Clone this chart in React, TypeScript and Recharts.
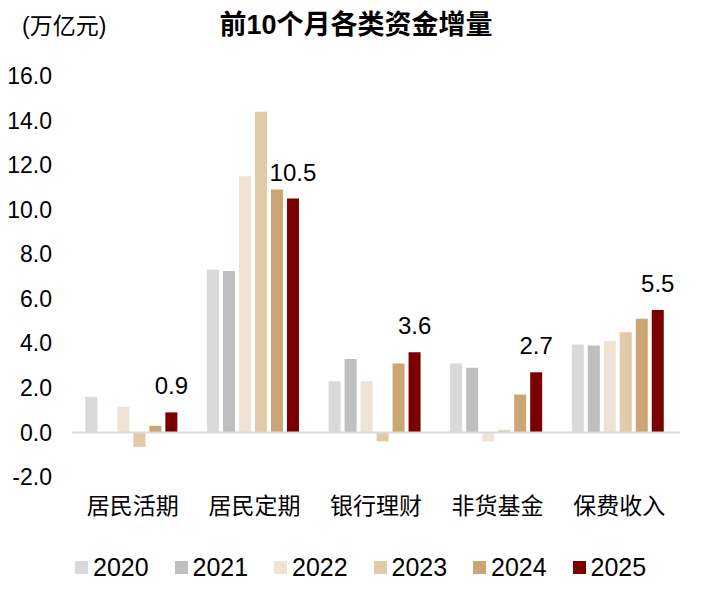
import React from 'react';
import { BarChart, Bar, XAxis, YAxis, ReferenceLine, LabelList } from 'recharts';

const categories = ['居民活期', '居民定期', '银行理财', '非货基金', '保费收入'];
const years = ['2020', '2021', '2022', '2023', '2024', '2025'];
const v2020 = [1.6, 7.3, 2.3, 3.1, 3.95];
const v2021 = [0, 7.25, 3.3, 2.9, 3.9];
const v2022 = [1.15, 11.5, 2.3, -0.4, 4.1];
const v2023 = [-0.65, 14.4, -0.4, 0.1, 4.5];
const v2024 = [0.3, 10.9, 3.1, 1.7, 5.1];
const v2025 = [0.9, 10.5, 3.6, 2.7, 5.5];
const yTicks = [-2, 0, 2, 4, 6, 8, 10, 12, 14, 16];
const colors = ['#D9D9D9', '#BFBFBF', '#EEE3D4', '#E0CAA8', '#C9A674', '#7A0000'];

const seriesValues = [v2020, v2021, v2022, v2023, v2024, v2025];
const data = categories.map((c, i) => {
  const row: Record<string, string | number> = { name: c };
  years.forEach((y, k) => {
    row[y] = seriesValues[k][i];
  });
  return row;
});

const FONT = "'Liberation Sans', Arial, 'Noto Sans CJK SC', sans-serif";

export default function App() {
  return (
    <div style={{ position: 'absolute', left: 0, top: 0, width: 723, height: 596, background: '#fff', fontFamily: FONT }}>
      <div style={{ position: 'absolute', left: 22, top: 11, fontSize: 23, lineHeight: '30px', color: '#000' }}>(万亿元)</div>
      <div style={{ position: 'absolute', left: 0, width: 712, top: 9, textAlign: 'center', fontSize: 27, fontWeight: 'bold', lineHeight: '32px', color: '#000' }}>
        前10个月各类资金增量
      </div>
      <BarChart
        width={723}
        height={596}
        data={data}
        margin={{ top: 76, right: 43, bottom: 89, left: 0 }}
        barCategoryGap="11%"
        barGap={4}
      >
        <XAxis
          dataKey="name"
          height={30}
          axisLine={false}
          tickLine={false}
          tickSize={0}
          tickMargin={21}
          tick={{ fontSize: 23, fill: '#000', fontFamily: FONT }}
          interval={0}
        />
        <YAxis
          width={72}
          domain={[-2, 16]}
          ticks={yTicks}
          axisLine={false}
          tickLine={false}
          tickSize={0}
          tickMargin={20}
          tickFormatter={(v: number) => v.toFixed(1)}
          tick={{ fontSize: 23, fill: '#000', fontFamily: FONT }}
          interval={0}
        />
        <ReferenceLine y={0} stroke="#D9D9D9" strokeWidth={2} />
        {years.map((y, k) => (
          <Bar key={y} dataKey={y} fill={colors[k]} isAnimationActive={false}>
            {k === years.length - 1 ? (
              <LabelList
                dataKey={y}
                position="top"
                offset={18}
                formatter={(v: number) => v.toFixed(1)}
                style={{ fontSize: 24, fill: '#000', fontFamily: FONT }}
              />
            ) : null}
          </Bar>
        ))}
      </BarChart>
      <div style={{ position: 'absolute', left: 75, top: 552, height: 30, display: 'flex', alignItems: 'center' }}>
        {years.map((y, k) => (
          <div key={y} style={{ display: 'flex', alignItems: 'center', width: 99.5 }}>
            <div style={{ width: 13, height: 13, background: colors[k], marginRight: 5 }} />
            <span style={{ fontSize: 25, color: '#000', lineHeight: '30px' }}>{y}</span>
          </div>
        ))}
      </div>
    </div>
  );
}
